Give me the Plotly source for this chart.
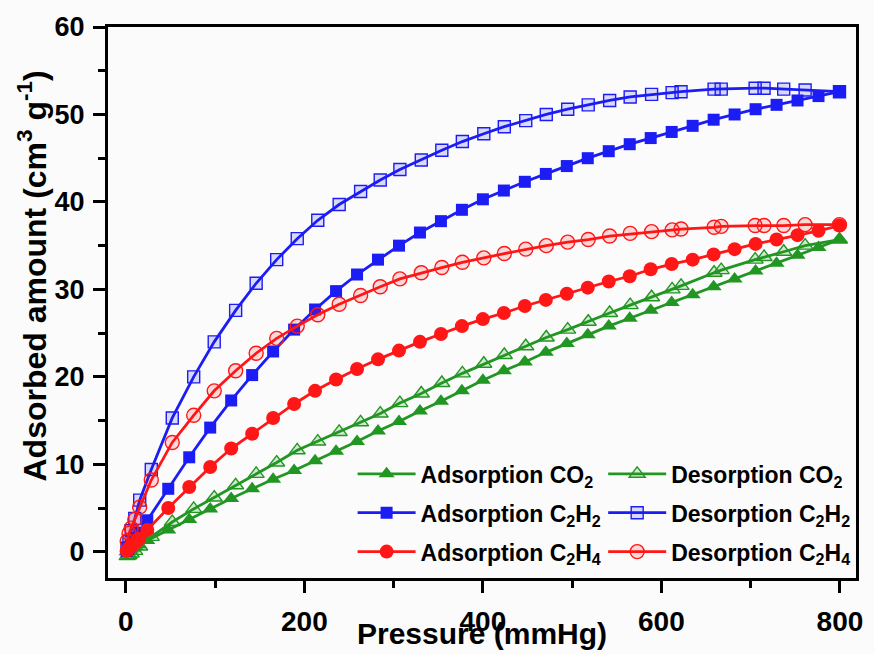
import plotly.graph_objects as go

# Adsorption branch pressures (mmHg), shared by the three gases
p_ads = [0.8, 2, 3.5, 5.5, 8, 11, 15, 24, 47.5, 71, 94.5, 118, 141.5, 165, 188.5,
         212, 235.5, 259, 282.5, 306, 329.5, 353, 376.5, 400, 423.5, 447, 470.5,
         494, 517.5, 541, 564.5, 588, 611.5, 635, 658.5, 682, 705.5, 729, 752.5,
         776, 799.5]

co2_ads = [0.0, 0.1, 0.2, 0.3, 0.4, 0.6, 0.8, 1.3, 2.5, 3.7, 4.9, 6.1, 7.2, 8.3,
           9.3, 10.4, 11.5, 12.6, 13.8, 14.9, 16.1, 17.2, 18.4, 19.6, 20.7, 21.7,
           22.8, 23.8, 24.8, 25.8, 26.7, 27.6, 28.5, 29.4, 30.3, 31.2, 32.1, 33.0,
           33.9, 34.8, 35.7]

c2h2_ads = [0.1, 0.3, 0.5, 0.8, 1.2, 1.6, 2.2, 3.6, 7.2, 10.8, 14.2, 17.3, 20.2,
            22.9, 25.4, 27.7, 29.8, 31.7, 33.4, 35.0, 36.5, 37.8, 39.1, 40.3, 41.3,
            42.3, 43.2, 44.1, 45.0, 45.8, 46.6, 47.3, 48.0, 48.7, 49.4, 50.0, 50.6,
            51.1, 51.6, 52.1, 52.6]

c2h4_ads = [0.1, 0.2, 0.4, 0.6, 0.8, 1.1, 1.5, 2.5, 5.0, 7.4, 9.7, 11.8, 13.5,
            15.3, 16.9, 18.4, 19.7, 20.9, 22.0, 23.0, 24.0, 24.9, 25.8, 26.6, 27.3,
            28.1, 28.8, 29.5, 30.2, 30.9, 31.5, 32.3, 32.9, 33.4, 34.0, 34.6, 35.2,
            35.7, 36.2, 36.7, 37.3]

# Desorption branch pressures (mmHg), decreasing
p_des = [799.5, 761, 737, 715, 705, 667, 659, 622, 612, 589, 565, 542, 518, 495,
         471, 448, 424, 401, 377, 354, 331, 307, 285, 263, 239, 215, 192, 169, 146,
         123, 99, 76, 52, 28.5, 15.5, 10, 6, 3.5, 1.5]

co2_des = [35.7, 35.0, 34.3, 33.7, 33.4, 32.2, 31.9, 30.4, 30.0, 29.1, 28.2, 27.3,
           26.3, 25.4, 24.5, 23.5, 22.5, 21.5, 20.4, 19.3, 18.1, 17.0, 15.8, 14.8,
           13.7, 12.6, 11.6, 10.2, 8.9, 7.6, 6.2, 4.9, 3.4, 1.7, 0.6, 0.1, -0.2,
           -0.4, -0.5]

c2h2_des = [52.6, 52.8, 52.9, 53.0, 53.0, 52.9, 52.9, 52.6, 52.5, 52.3, 52.0, 51.6,
            51.1, 50.6, 50.0, 49.3, 48.6, 47.8, 46.9, 45.9, 44.8, 43.7, 42.5, 41.2,
            39.7, 37.9, 35.8, 33.4, 30.7, 27.6, 24.0, 20.0, 15.3, 9.4, 5.9, 3.8, 2.4,
            1.2, 0.4]

c2h4_des = [37.4, 37.4, 37.3, 37.3, 37.3, 37.2, 37.1, 36.9, 36.8, 36.6, 36.4, 36.1,
            35.7, 35.4, 35.0, 34.6, 34.1, 33.6, 33.1, 32.5, 31.9, 31.2, 30.3, 29.3,
            28.3, 27.1, 25.8, 24.4, 22.7, 20.7, 18.4, 15.6, 12.5, 8.2, 5.1, 3.7, 2.7,
            2.1, 1.2]

GREEN = "rgb(34,150,34)"
BLUE = "rgb(28,28,245)"
RED = "rgb(255,22,22)"
FILL_G = "rgba(34,150,34,0.18)"
FILL_B = "rgba(28,28,245,0.15)"
FILL_R = "rgba(255,22,22,0.15)"

series = [
    ("Adsorption CO<sub>2</sub>", p_ads, co2_ads, GREEN, "triangle-up", 14, None, "legend"),
    ("Desorption CO<sub>2</sub>", p_des, co2_des, GREEN, "triangle-up", 14, FILL_G, "legend2"),
    ("Adsorption C<sub>2</sub>H<sub>2</sub>", p_ads, c2h2_ads, BLUE, "square", 12, None, "legend"),
    ("Desorption C<sub>2</sub>H<sub>2</sub>", p_des, c2h2_des, BLUE, "square", 12, FILL_B, "legend2"),
    ("Adsorption C<sub>2</sub>H<sub>4</sub>", p_ads, c2h4_ads, RED, "circle", 14, None, "legend"),
    ("Desorption C<sub>2</sub>H<sub>4</sub>", p_des, c2h4_des, RED, "circle", 14, FILL_R, "legend2"),
]

fig = go.Figure()
for i, (name, px, py, col, sym, size, fill, leg) in enumerate(series):
    if fill is None:
        marker = dict(symbol=sym, size=size, color=col, line=dict(width=0))
    else:
        marker = dict(symbol=sym, size=size, color=fill, line=dict(width=1.4, color=col))
    fig.add_trace(go.Scatter(
        x=px, y=py, name=name, mode="lines+markers",
        line=dict(color=col, width=2.8),
        marker=marker, legend=leg, legendgroup="g%d" % i,
    ))

axis_common = dict(
    showline=True, linewidth=3, linecolor="black", mirror=True,
    ticks="outside", tickwidth=3, ticklen=12, tickcolor="black",
    showgrid=False, zeroline=False,
)
minor_common = dict(ticks="outside", ticklen=7, tickwidth=3, tickcolor="black")

fig.update_layout(
    width=874, height=654,
    margin=dict(l=108, r=11, t=27, b=76),
    paper_bgcolor="#fbfbfb", plot_bgcolor="#fbfbfb",
    font=dict(family="Liberation Sans, Arial, sans-serif", color="black"),
    xaxis=dict(
        range=[-20, 818], tickvals=[0, 200, 400, 600, 800],
        minor=dict(dtick=100, tick0=0, **minor_common),
        tickfont=dict(size=28, weight="bold"),
        ticklabelstandoff=4,
        **axis_common,
    ),
    yaxis=dict(
        range=[-3.0, 60], tickvals=[0, 10, 20, 30, 40, 50, 60],
        minor=dict(dtick=5, tick0=0, **minor_common),
        tickfont=dict(size=27, weight="bold"),
        ticklabelstandoff=3,
        **axis_common,
    ),
    legend=dict(
        x=0.327, y=0.228, xanchor="left", yanchor="top",
        bgcolor="rgba(0,0,0,0)", borderwidth=0, itemwidth=58,
        tracegroupgap=6, font=dict(size=23, weight="bold"),
    ),
    legend2=dict(
        x=0.662, y=0.228, xanchor="left", yanchor="top",
        bgcolor="rgba(0,0,0,0)", borderwidth=0, itemwidth=58,
        tracegroupgap=6, font=dict(size=23, weight="bold"),
    ),
    annotations=[
        dict(text="<b>Pressure (mmHg)</b>", xref="paper", yref="paper",
             x=0.5, y=-0.1016, xanchor="center", yanchor="middle", showarrow=False,
             font=dict(size=30, family="Liberation Sans, Arial")),
        dict(text="<b>Adsorbed amount (cm<sup>3</sup> g<sup>-1</sup>)</b>",
             xref="paper", yref="paper", x=-0.101, y=0.548, textangle=-90,
             xanchor="center", yanchor="middle", showarrow=False,
             font=dict(size=32, family="Liberation Sans, Arial")),
    ],
)

fig.write_html("out.html")
